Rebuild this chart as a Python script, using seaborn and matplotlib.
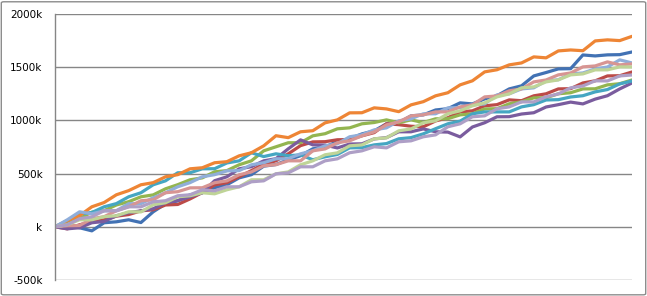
import matplotlib
matplotlib.use("Agg")
import matplotlib.pyplot as plt
import seaborn as sns
import pandas as pd
from matplotlib.patches import FancyBboxPatch

# values in thousands, 48 samples per series
blue = [0, 9, -9, -38, 38, 47, 66, 40, 141, 216, 244, 301, 320, 367, 395, 460, 490, 570, 585, 630, 668, 733, 752, 800, 828, 873, 902, 968, 978, 1043, 1052, 1098, 1110, 1165, 1155, 1202, 1232, 1296, 1325, 1418, 1450, 1484, 1486, 1615, 1606, 1616, 1618, 1643]
red = [0, -19, 19, 47, 66, 100, 115, 150, 160, 205, 210, 262, 322, 393, 415, 470, 528, 590, 620, 686, 763, 798, 800, 818, 820, 855, 885, 968, 960, 945, 940, 995, 1025, 1080, 1090, 1137, 1148, 1193, 1185, 1231, 1250, 1296, 1298, 1352, 1372, 1418, 1420, 1455]
green = [0, 47, 78, 138, 152, 205, 236, 282, 300, 357, 396, 442, 460, 517, 528, 583, 620, 714, 752, 790, 790, 855, 875, 921, 930, 968, 980, 1005, 978, 1005, 980, 1015, 1016, 1052, 1062, 1108, 1110, 1156, 1175, 1212, 1213, 1250, 1260, 1296, 1297, 1334, 1345, 1380]
purple = [0, -19, -9, 38, 50, 104, 133, 150, 170, 226, 246, 282, 320, 433, 470, 545, 565, 620, 640, 733, 817, 770, 768, 741, 778, 780, 826, 838, 893, 893, 920, 893, 890, 845, 938, 978, 1034, 1035, 1060, 1072, 1126, 1148, 1172, 1155, 1200, 1232, 1296, 1352]
teal = [0, 56, 120, 134, 188, 218, 282, 320, 395, 432, 508, 508, 545, 546, 600, 620, 696, 660, 686, 668, 676, 630, 658, 680, 742, 744, 770, 782, 827, 838, 874, 922, 968, 993, 1062, 1080, 1080, 1080, 1127, 1148, 1192, 1195, 1220, 1232, 1268, 1290, 1343, 1371]
orange = [0, 57, 105, 188, 228, 301, 340, 395, 415, 470, 490, 545, 555, 602, 612, 667, 696, 761, 856, 838, 893, 903, 977, 1005, 1071, 1072, 1118, 1108, 1082, 1146, 1176, 1231, 1260, 1334, 1372, 1456, 1476, 1522, 1540, 1597, 1588, 1653, 1662, 1655, 1747, 1757, 1750, 1790]
lightblue = [0, 66, 141, 122, 150, 152, 217, 218, 273, 320, 376, 415, 470, 490, 526, 528, 583, 602, 639, 640, 686, 715, 761, 780, 846, 865, 911, 930, 996, 1015, 1062, 1062, 1118, 1120, 1146, 1155, 1240, 1250, 1296, 1306, 1372, 1382, 1437, 1446, 1484, 1502, 1569, 1540]
pink = [0, 10, 12, 76, 95, 151, 188, 245, 254, 320, 330, 366, 367, 414, 432, 489, 516, 573, 584, 620, 620, 714, 732, 790, 808, 855, 892, 958, 986, 1043, 1052, 1080, 1080, 1127, 1146, 1221, 1230, 1278, 1296, 1362, 1380, 1428, 1446, 1503, 1512, 1550, 1522, 1531]
lightgreen = [0, 19, 66, 66, 95, 104, 141, 140, 207, 226, 282, 292, 320, 310, 348, 376, 442, 442, 498, 516, 583, 620, 677, 695, 761, 770, 827, 836, 902, 920, 977, 996, 1062, 1090, 1137, 1165, 1221, 1249, 1306, 1315, 1362, 1381, 1428, 1437, 1475, 1475, 1503, 1502]
lightpurple = [0, 19, 76, 94, 151, 150, 188, 188, 235, 245, 292, 301, 348, 338, 376, 376, 423, 432, 498, 507, 564, 564, 620, 639, 696, 714, 752, 742, 799, 808, 846, 864, 940, 968, 1034, 1043, 1109, 1127, 1174, 1174, 1221, 1249, 1306, 1324, 1372, 1371, 1418, 1427]

series = {
    "S1": blue, "S2": red, "S3": green, "S4": purple, "S5": teal,
    "S6": orange, "S7": lightblue, "S8": pink, "S9": lightgreen, "S10": lightpurple,
}
colors = ["#4272B4", "#BC4B48", "#93B550", "#7A5C9E", "#45A6C2",
          "#EE8535", "#90AEDA", "#D79593", "#BFD497", "#AE9FC6"]

rows = []
for name, vals in series.items():
    for i, v in enumerate(vals):
        rows.append({"x": i, "y": v, "s": name})
df = pd.DataFrame(rows)

sns.set_style("white")
plt.rcParams['font.family'] = ['DejaVu Sans']

fig = plt.figure(figsize=(6.47, 2.96), dpi=100)
ax = fig.add_axes([55/647, 16/296, 577/647, 266/296])

sns.lineplot(data=df, x="x", y="y", hue="s", palette=colors, ax=ax,
             legend=False, linewidth=2.3, estimator=None, sort=False)

ax.set_xlim(0, 47)
ax.set_ylim(-500, 2000)
yt = [-500, 0, 500, 1000, 1500, 2000]
ax.set_yticks(yt)
ax.set_yticklabels(["-500k", "k", "500k", "1000k", "1500k", "2000k"], fontsize=7.5)
ax.set_xticks([])
ax.set_xlabel("")
ax.set_ylabel("")
ax.grid(axis="y", color="#868686", linewidth=1.0)
ax.set_axisbelow(True)
for s in ["top", "right", "bottom"]:
    ax.spines[s].set_visible(False)
ax.spines["left"].set_color("#868686")
ax.spines["left"].set_linewidth(1.0)
ax.tick_params(axis="y", length=4, color="#868686", width=1, pad=5, labelcolor="#000000")

border = FancyBboxPatch((0.002, 0.004), 0.996, 0.99, boxstyle="round,pad=0,rounding_size=0.004",
                        transform=fig.transFigure, fill=False, edgecolor="#8C8C8C", linewidth=1.0)
fig.patches.append(border)

fig.savefig("out.png", dpi=100)
